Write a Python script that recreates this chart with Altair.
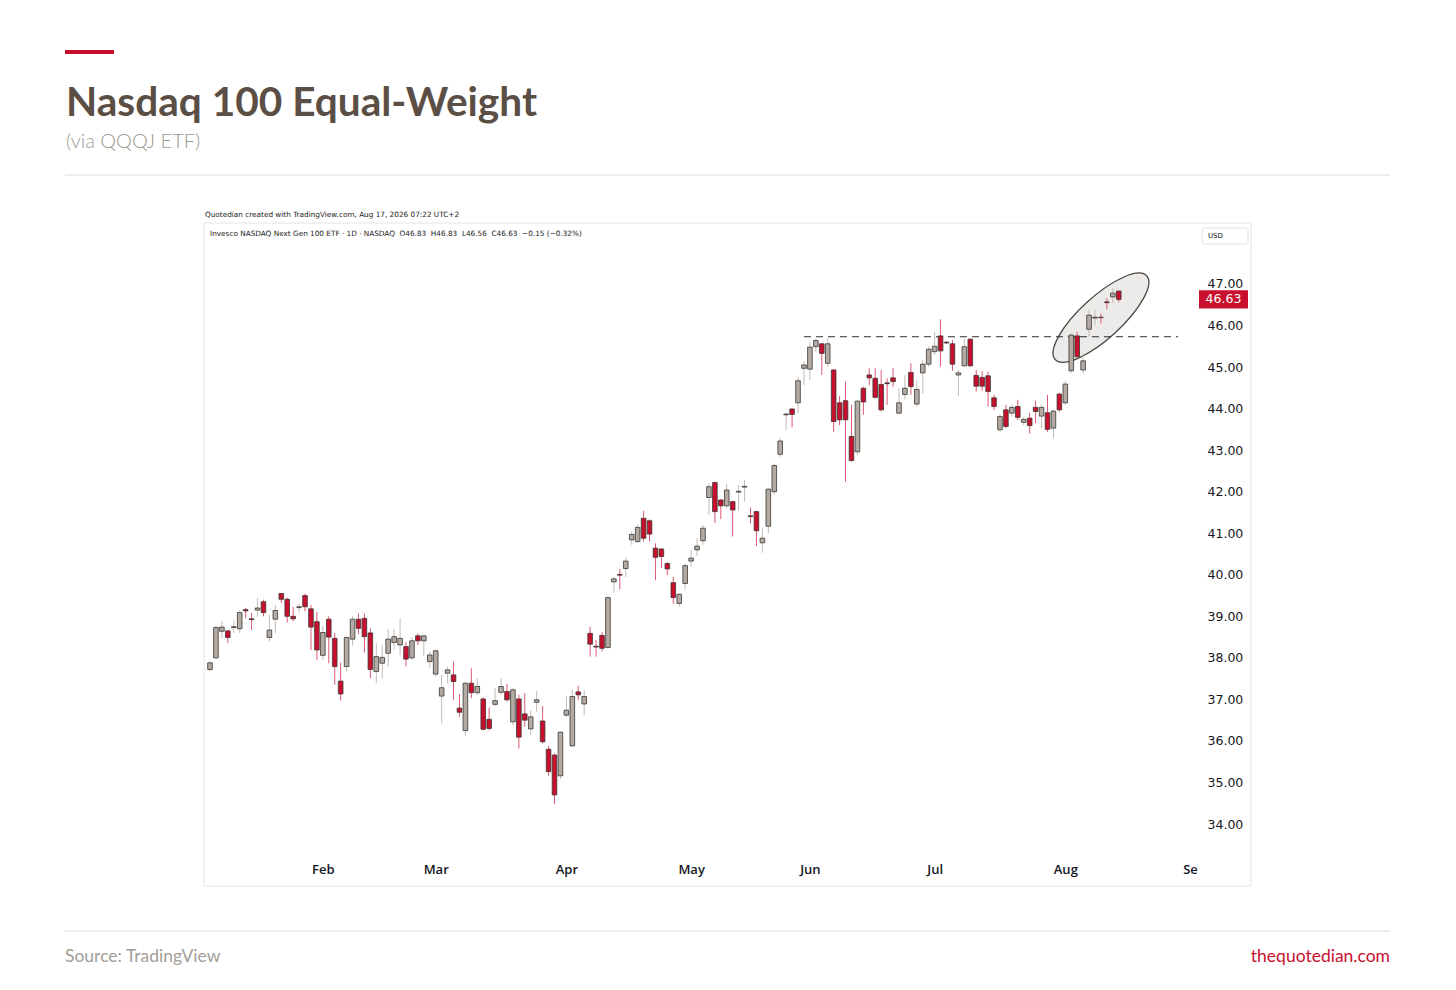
import altair as alt
import pandas as pd

# ---------------- data ----------------
opens = [37.72, 38.00, 38.64, 38.65, 38.73, 38.70, 39.16, 38.94, 39.15, 39.35,
         38.49, 38.93, 39.55, 39.41, 39.00, 39.21, 39.50, 39.18, 38.87, 38.06,
         38.93, 38.47, 37.44, 37.79, 38.45, 38.93, 38.95, 38.60, 37.67, 37.87,
         38.11, 38.37, 38.31, 38.27, 38.00, 38.53, 38.41, 37.91, 37.61, 37.08,
         37.63, 37.59, 36.79, 36.25, 37.39, 37.16, 37.01, 36.52, 36.88, 37.17,
         37.19, 36.46, 37.01, 36.65, 36.29, 36.93, 36.48, 35.80, 35.66, 35.16,
         36.62, 35.88, 37.18, 36.89, 38.59, 38.28, 38.54, 38.25, 39.83, 40.01,
         40.15, 40.84, 40.80, 41.36, 41.30, 40.64, 40.62, 40.27, 39.81, 39.31,
         39.79, 40.33, 40.60, 40.82, 41.86, 42.22, 41.80, 41.66, 41.76, 41.99,
         42.11, 41.42, 41.52, 40.77, 41.17, 42.00, 42.90, 43.85, 43.99, 44.14,
         44.97, 44.95, 45.49, 45.56, 45.09, 44.93, 44.14, 44.19, 43.33, 42.96,
         44.49, 44.81, 44.73, 44.58, 44.62, 44.74, 43.89, 44.34, 44.87, 44.11,
         44.86, 45.07, 45.37, 45.75, 45.60, 45.56, 44.81, 45.03, 45.67, 44.80,
         44.75, 44.79, 44.26, 43.49, 43.97, 43.89, 44.05, 43.67, 43.77, 44.03,
         43.82, 43.90, 43.53, 44.35, 44.14, 44.91, 45.75, 44.93, 45.91, 46.18,
         46.20, 46.57, 46.69, 46.83]
highs = [37.92, 38.78, 38.88, 38.66, 38.90, 39.15, 39.20, 39.08, 39.44, 39.40,
         39.03, 39.27, 39.56, 39.45, 39.23, 39.30, 39.55, 39.27, 39.11, 38.77,
         39.00, 38.60, 37.89, 38.51, 39.00, 39.07, 39.07, 38.71, 38.35, 38.30,
         38.69, 38.70, 38.95, 38.37, 38.50, 38.59, 38.56, 38.15, 38.20, 37.59,
         37.80, 37.91, 37.13, 37.43, 37.75, 37.51, 37.05, 36.81, 37.27, 37.51,
         37.37, 37.27, 37.11, 37.15, 36.73, 37.20, 36.84, 35.88, 35.70, 36.22,
         37.08, 37.23, 37.33, 37.23, 38.75, 38.43, 38.61, 39.47, 39.95, 40.14,
         40.41, 41.04, 41.22, 41.54, 41.33, 40.76, 40.64, 40.31, 39.95, 39.55,
         40.27, 40.60, 40.88, 41.20, 42.20, 42.24, 41.82, 42.19, 41.78, 42.16,
         42.28, 41.62, 41.54, 41.12, 42.08, 42.68, 43.29, 43.90, 44.01, 44.77,
         45.13, 45.61, 45.69, 45.57, 45.69, 44.95, 44.30, 44.65, 44.09, 44.21,
         44.53, 44.97, 44.97, 44.93, 44.73, 44.97, 44.49, 44.81, 45.09, 44.69,
         45.17, 45.49, 45.85, 46.15, 45.62, 45.65, 44.93, 45.69, 45.69, 44.93,
         44.90, 44.89, 44.33, 43.87, 44.09, 44.09, 44.21, 43.80, 43.90, 44.19,
         44.09, 44.33, 43.98, 44.38, 44.67, 45.81, 45.85, 45.33, 46.37, 46.39,
         46.29, 46.66, 46.90, 46.83]
lows = [37.68, 37.97, 38.47, 38.36, 38.60, 38.60, 38.95, 38.67, 38.98, 39.00,
        38.39, 38.60, 39.32, 38.85, 38.88, 39.10, 39.12, 38.19, 37.95, 37.95,
        37.87, 37.35, 36.97, 37.67, 38.30, 38.57, 38.13, 37.51, 37.39, 37.50,
        37.79, 38.20, 38.07, 37.79, 37.95, 38.31, 38.03, 37.75, 37.55, 36.42,
        37.39, 36.99, 36.58, 36.12, 37.03, 37.11, 36.25, 36.25, 36.84, 37.11,
        36.95, 36.38, 35.82, 36.34, 36.14, 36.70, 35.94, 35.16, 34.48, 35.08,
        36.58, 35.86, 36.99, 36.62, 38.03, 38.03, 38.15, 38.22, 39.57, 39.65,
        39.95, 40.72, 40.76, 40.80, 40.80, 39.87, 40.16, 39.99, 39.30, 39.23,
        39.66, 40.19, 40.45, 40.72, 41.44, 41.25, 41.34, 41.60, 40.92, 41.54,
        41.76, 41.24, 40.69, 40.53, 41.00, 41.92, 42.84, 43.49, 43.55, 43.89,
        44.57, 44.69, 45.37, 44.81, 45.01, 43.44, 43.60, 42.24, 42.72, 42.88,
        43.85, 44.57, 44.25, 43.93, 44.09, 44.53, 43.87, 44.22, 44.33, 44.05,
        44.37, 45.01, 45.29, 45.01, 45.56, 44.91, 44.30, 45.01, 45.01, 44.41,
        44.43, 44.05, 43.97, 43.44, 43.53, 43.81, 43.73, 43.60, 43.40, 43.65,
        43.53, 43.44, 43.29, 43.93, 44.09, 44.85, 45.21, 44.85, 45.73, 46.01,
        46.05, 46.39, 46.54, 46.56]
closes = [37.88, 38.73, 38.74, 38.49, 38.75, 39.09, 39.13, 38.92, 39.20, 39.09,
          38.67, 39.14, 39.41, 39.00, 38.94, 39.23, 39.23, 38.74, 38.19, 38.61,
          38.50, 37.79, 37.13, 38.49, 38.93, 38.71, 38.51, 37.72, 38.03, 38.01,
          38.45, 38.51, 38.47, 37.97, 38.41, 38.41, 38.53, 38.07, 38.17, 37.28,
          37.71, 37.43, 36.69, 37.39, 37.16, 37.31, 36.28, 36.30, 36.97, 37.31,
          36.99, 37.23, 36.09, 36.50, 36.58, 36.99, 35.98, 35.26, 34.70, 36.21,
          36.74, 37.07, 37.11, 37.07, 38.33, 38.26, 38.23, 39.45, 39.90, 39.99,
          40.33, 40.97, 41.14, 40.88, 40.98, 40.42, 40.44, 40.14, 39.45, 39.53,
          40.22, 40.40, 40.69, 41.12, 42.12, 41.52, 41.66, 42.04, 41.56, 42.01,
          42.13, 41.40, 41.06, 40.88, 42.06, 42.63, 43.22, 43.87, 43.86, 44.67,
          45.05, 45.48, 45.64, 45.33, 45.56, 43.69, 43.73, 43.73, 42.75, 44.18,
          44.16, 44.74, 44.27, 43.97, 44.60, 44.65, 44.14, 44.49, 44.53, 44.46,
          45.07, 45.43, 45.50, 45.39, 45.58, 45.07, 44.86, 45.49, 45.03, 44.54,
          44.54, 44.41, 44.05, 43.81, 43.57, 44.03, 43.79, 43.74, 43.59, 43.93,
          44.03, 43.50, 43.94, 43.97, 44.59, 45.77, 45.25, 45.15, 46.25, 46.20,
          46.19, 46.55, 46.78, 46.63]

month_idx = [20, 39, 61, 82, 102, 123, 145, 166]
month_lbl = ["Feb", "Mar", "Apr", "May", "Jun", "Jul", "Aug", "Se"]
price_ticks = [34, 35, 36, 37, 38, 39, 40, 41, 42, 43, 44, 45, 46, 47]

resistance = [45.73]
res_from = [101]
res_to = [164]
last_price = [46.63]
ellipse_at = [151.0]
ellipse_price = [46.19]

title = "Nasdaq 100 Equal-Weight"
subtitle = "(via QQQJ ETF)"
credit = "Quotedian created with TradingView.com, Aug 17, 2026 07:22 UTC+2"
NB = "\u00a0"
legend_line = ("Invesco NASDAQ Next Gen 100 ETF \u00b7 1D \u00b7 NASDAQ" + NB * 2 + "O46.83" + NB * 2 +
               "H46.83" + NB * 2 + "L46.56" + NB * 2 + "C46.63" + NB * 2 + "\u22120.15 (\u22120.32%)")
source = "Source: TradingView"
site = "thequotedian.com"

# ---------------- styling ----------------
RED = "#c8102e"
GREY = "#b3aba3"
RED_WICK = "#dd5a74"
GREY_WICK = "#c2bcb6"
OUTLINE = "#3a3632"
TV_FONT = "DejaVu Sans"

W, H = 992, 631
X_DOMAIN = [1, 166.33]
Y_DOMAIN = [33.254, 48.444]

df = pd.DataFrame({"i": list(range(1, len(opens) + 1)), "o": opens, "h": highs,
                   "l": lows, "c": closes})

label_expr = " : ".join(f"datum.value == {v} ? '{t}'" for v, t in zip(month_idx, month_lbl)) + " : ''"

x_axis = alt.Axis(values=month_idx, labelExpr=label_expr, domain=False, ticks=False,
                  tickSize=0, grid=False, labelFont="Open Sans", labelFontSize=13,
                  labelFontWeight=600, labelColor="#131722", labelPadding=8,
                  labelFlush=False, title=None)
y_axis = alt.Axis(orient="right", values=price_ticks, format=".2f", domain=False,
                  ticks=False, tickSize=0, grid=False, labelFont=TV_FONT,
                  labelFontSize=12.5, labelColor="#131722", labelPadding=10,
                  labelFlush=False, title=None)


def X(field):
    return alt.X(field, type="quantitative",
                 scale=alt.Scale(domain=X_DOMAIN, nice=False, zero=False), axis=x_axis)


def Y(field):
    return alt.Y(field, type="quantitative",
                 scale=alt.Scale(domain=Y_DOMAIN, nice=False, zero=False), axis=y_axis)


one = pd.DataFrame({"a": [0]})

# ellipse highlight
ell = alt.Chart(pd.DataFrame({"i": ellipse_at, "p": ellipse_price})).mark_point(
    shape="M -1 0 A 1 0.335 0 1 1 1 0 A 1 0.335 0 1 1 -1 0 Z",
    size=15376, angle=317.6, filled=True, fill="#ecebe9", stroke="#4d4742",
    strokeWidth=1.3, opacity=1
).encode(x=X("i"), y=Y("p"))

# resistance dashed line
res = alt.Chart(pd.DataFrame({"x1": res_from, "x2": res_to, "p": resistance})).mark_rule(
    strokeDash=[7, 5], color="#2f2f2f", strokeWidth=1
).encode(x=X("x1"), x2="x2:Q", y=Y("p"))

wicks = alt.Chart(df).mark_rule(strokeWidth=1, clip=True).encode(
    x=X("i"), y=Y("l"), y2="h:Q",
    color=alt.condition("datum.c < datum.o", alt.value(RED_WICK), alt.value(GREY_WICK)),
)

bodies = alt.Chart(df).mark_bar(size=4.6, stroke=OUTLINE, strokeWidth=0.8, clip=True).encode(
    x=X("i"), y=Y("o"), y2="c:Q",
    color=alt.condition("datum.c < datum.o", alt.value(RED), alt.value(GREY)),
)

# last price tag
tag_box = alt.Chart(pd.DataFrame({"p": last_price})).mark_rect(color=RED).encode(
    x=alt.value(994), x2=alt.value(1043),
    y=alt.Y("lo:Q", scale=alt.Scale(domain=Y_DOMAIN, nice=False, zero=False), axis=y_axis),
    y2="hi:Q",
).transform_calculate(lo="datum.p - 0.222", hi="datum.p + 0.222")
tag_txt = alt.Chart(pd.DataFrame({"p": last_price})).mark_text(
    color="white", font=TV_FONT, fontSize=12.5, align="center", baseline="middle"
).encode(x=alt.value(1018.5), y=Y("p"), text=alt.Text("p:Q", format=".2f"))

# frame and USD box
frame = alt.Chart(one).mark_rect(fill="white", fillOpacity=0, stroke="#e4e4e4", strokeWidth=1).encode(
    x=alt.value(-1), x2=alt.value(1046), y=alt.value(-1), y2=alt.value(662))
usd_box = alt.Chart(one).mark_rect(fill="white", stroke="#e0e0e0", strokeWidth=1, cornerRadius=2).encode(
    x=alt.value(997), x2=alt.value(1043), y=alt.value(4), y2=alt.value(20))
usd_txt = alt.Chart(one).mark_text(text="USD", font=TV_FONT, fontSize=7, color="#131722",
                                   align="left", baseline="middle").encode(
    x=alt.value(1003), y=alt.value(12))

credit_txt = alt.Chart(one).mark_text(text=credit, font=TV_FONT, fontSize=7.3, color="#222222",
                                      align="left", baseline="middle").encode(
    x=alt.value(0), y=alt.value(-9))
legend_txt = alt.Chart(one).mark_text(text=legend_line, font=TV_FONT, fontSize=7.3, color="#222222",
                                      align="left", baseline="middle").encode(
    x=alt.value(5), y=alt.value(10))

# page chrome
accent = alt.Chart(one).mark_rule(color=RED, strokeWidth=4).encode(
    x=alt.value(-140), x2=alt.value(-91), y=alt.value(-172))
title_txt = alt.Chart(one).mark_text(text=title, font="Lato", fontSize=40.6, fontWeight="bold",
                                     color="#5b4f45", align="left", baseline="alphabetic").encode(
    x=alt.value(-139), y=alt.value(-108))
sub_txt = alt.Chart(one).mark_text(text=subtitle, font="Lato", fontSize=20, fontWeight=300,
                                   color="#a0978f", align="left", baseline="middle").encode(
    x=alt.value(-139), y=alt.value(-82))
top_line = alt.Chart(one).mark_rule(color="#dcdcdc", strokeWidth=1).encode(
    x=alt.value(-140), x2=alt.value(1185), y=alt.value(-49))
bottom_line = alt.Chart(one).mark_rule(color="#dcdcdc", strokeWidth=1).encode(
    x=alt.value(-140), x2=alt.value(1185), y=alt.value(707))
source_txt = alt.Chart(one).mark_text(text=source, font="Lato", fontSize=17.5, color="#a39d97",
                                      align="left", baseline="middle").encode(
    x=alt.value(-140), y=alt.value(733))
site_txt = alt.Chart(one).mark_text(text=site, font="Lato", fontSize=17.5, color=RED,
                                    align="right", baseline="middle").encode(
    x=alt.value(1185), y=alt.value(733))

chart = alt.layer(
    frame, ell, res, wicks, bodies, tag_box, tag_txt, usd_box, usd_txt,
    credit_txt, legend_txt, accent, title_txt, sub_txt, top_line, bottom_line,
    source_txt, site_txt
).properties(
    width=W, height=H,
    padding={"left": 197, "top": 216, "right": 245, "bottom": 120},
    autosize=alt.AutoSizeParams(type="none"),
    background="white",
).configure_view(stroke=None)

chart.save("out.html", embed_options={"renderer": "svg", "actions": False})
